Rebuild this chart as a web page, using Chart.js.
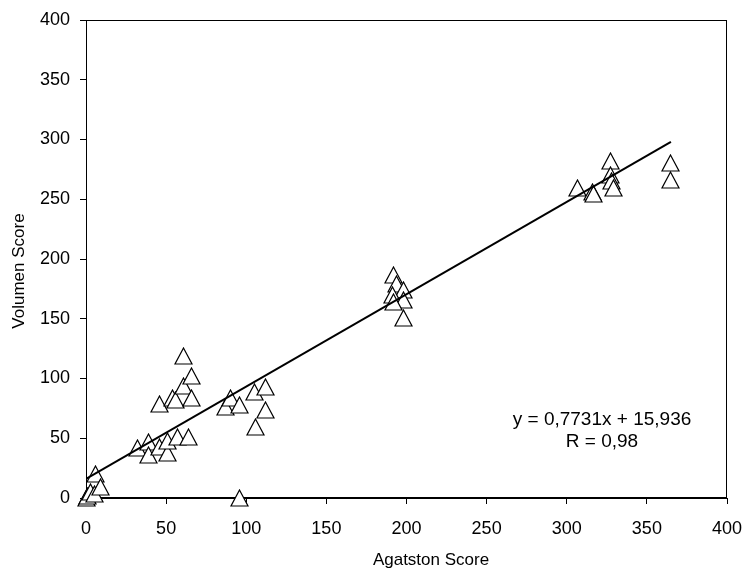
<!DOCTYPE html>
<html lang="es">
<head>
    <meta charset="UTF-8">
    <title>Volumen Score vs Agatston Score</title>
    <script src="https://cdn.jsdelivr.net/npm/chart.js"></script>
    <style>
        html, body { margin: 0; padding: 0; background: #fff; }
        #wrap { width: 742px; height: 571px; }
    </style>
</head>
<body>
    <div id="wrap"><canvas id="grafico" width="742" height="571"></canvas></div>

    <script>
        // puntos medidos (Agatston, Volumen)
        var agatston = [0, 1, 3, 5, 6, 9,
            32, 39, 39, 46, 51, 51, 57, 64,
            46, 54, 56, 61, 61, 66, 66,
            87, 90, 96, 96, 105, 106, 112, 112,
            192, 194, 198, 191, 198, 192, 198,
            307, 316, 317, 327, 327, 328, 329, 365, 365];
        var volumen = [0, 2, 5, 3, 20, 9,
            42, 47, 36, 43, 38, 48, 51, 51,
            79, 84, 82, 94, 119, 102, 84,
            76, 84, 78, 0, 89, 59, 93, 74,
            187, 179, 174, 170, 166, 164, 151,
            259, 256, 254, 282, 270, 265, 259, 280, 266];

        // recta de regresión (extremos)
        var rectaX = [0, 365];
        var rectaY = [15.9, 298.1];

        var ticksX = [0, 50, 100, 150, 200, 250, 300, 350, 400];
        var ticksY = [0, 50, 100, 150, 200, 250, 300, 350, 400];

        var ecuacion = ['y = 0,7731x + 15,936', 'R = 0,98'];

        // marcador triángulo blanco con borde negro
        var tri = document.createElement('canvas');
        tri.width = 19; tri.height = 18;
        var t = tri.getContext('2d');
        t.beginPath();
        t.moveTo(9.5, 1);
        t.lineTo(18, 17);
        t.lineTo(1, 17);
        t.closePath();
        t.fillStyle = '#fff';
        t.fill();
        t.strokeStyle = '#000';
        t.lineWidth = 1.2;
        t.stroke();

        var fuente = "'Liberation Sans', Arial, sans-serif";

        var marco = {
            id: 'marco',
            beforeDatasetsDraw: function (chart) {
                var a = chart.chartArea, c = chart.ctx;
                c.save();
                c.strokeStyle = '#000';
                c.lineWidth = 1;
                c.strokeRect(a.left + 0.5, a.top + 0.5, a.right - a.left - 1, a.bottom - a.top - 1);
                c.restore();
                c.imageSmoothingEnabled = false;
            },
            afterDraw: function (chart) {
                var c = chart.ctx, sx = chart.scales.x, sy = chart.scales.y;
                c.save();
                c.fillStyle = '#000';
                c.textAlign = 'center';
                c.textBaseline = 'middle';
                c.font = '19px ' + fuente;
                c.fillText(ecuacion[0], sx.getPixelForValue(322), sy.getPixelForValue(65.5));
                c.fillText(ecuacion[1], sx.getPixelForValue(322), sy.getPixelForValue(47));
                c.font = '17px ' + fuente;
                c.fillText('Agatston Score', 431, 560);
                c.translate(19, 271);
                c.rotate(-Math.PI / 2);
                c.fillText('Volumen Score', 0, 0);
                c.restore();
            }
        };

        var ctx = document.getElementById('grafico').getContext('2d');
        new Chart(ctx, {
            type: 'scatter',
            data: {
                datasets: [{
                    type: 'line',
                    data: rectaX.map(function (x, i) { return { x: x, y: rectaY[i] }; }),
                    borderColor: '#000',
                    borderWidth: 2,
                    pointRadius: 0,
                    fill: false
                }, {
                    data: agatston.map(function (x, i) { return { x: x, y: volumen[i] }; }),
                    pointStyle: tri,
                    pointRadius: 9,
                    clip: false
                }]
            },
            plugins: [marco],
            options: {
                responsive: false,
                animation: false,
                events: [],
                layout: { padding: { top: 20, right: 0, left: 0, bottom: 0 } },
                plugins: { legend: { display: false }, tooltip: { enabled: false } },
                scales: {
                    x: {
                        type: 'linear',
                        min: 0, max: 400,
                        afterBuildTicks: function (s) { s.ticks = ticksX.map(function (v) { return { value: v }; }); },
                        afterFit: function (s) { s.height = 73; s.paddingRight = 15; s.paddingLeft = 0; },
                        grid: { drawOnChartArea: false, drawTicks: true, tickLength: 6, color: '#000' },
                        border: { display: true, color: '#000', width: 1 },
                        ticks: { color: '#000', padding: 14, maxRotation: 0, font: { family: fuente, size: 18 } }
                    },
                    y: {
                        type: 'linear',
                        min: 0, max: 400,
                        afterBuildTicks: function (s) { s.ticks = ticksY.map(function (v) { return { value: v }; }); },
                        afterFit: function (s) { s.width = 86; s.paddingTop = 0; s.paddingBottom = 0; },
                        grid: { drawOnChartArea: false, drawTicks: true, tickLength: 6, color: '#000' },
                        border: { display: true, color: '#000', width: 1 },
                        ticks: { color: '#000', padding: 10, font: { family: fuente, size: 18 } }
                    }
                }
            }
        });
    </script>
</body>
</html>
